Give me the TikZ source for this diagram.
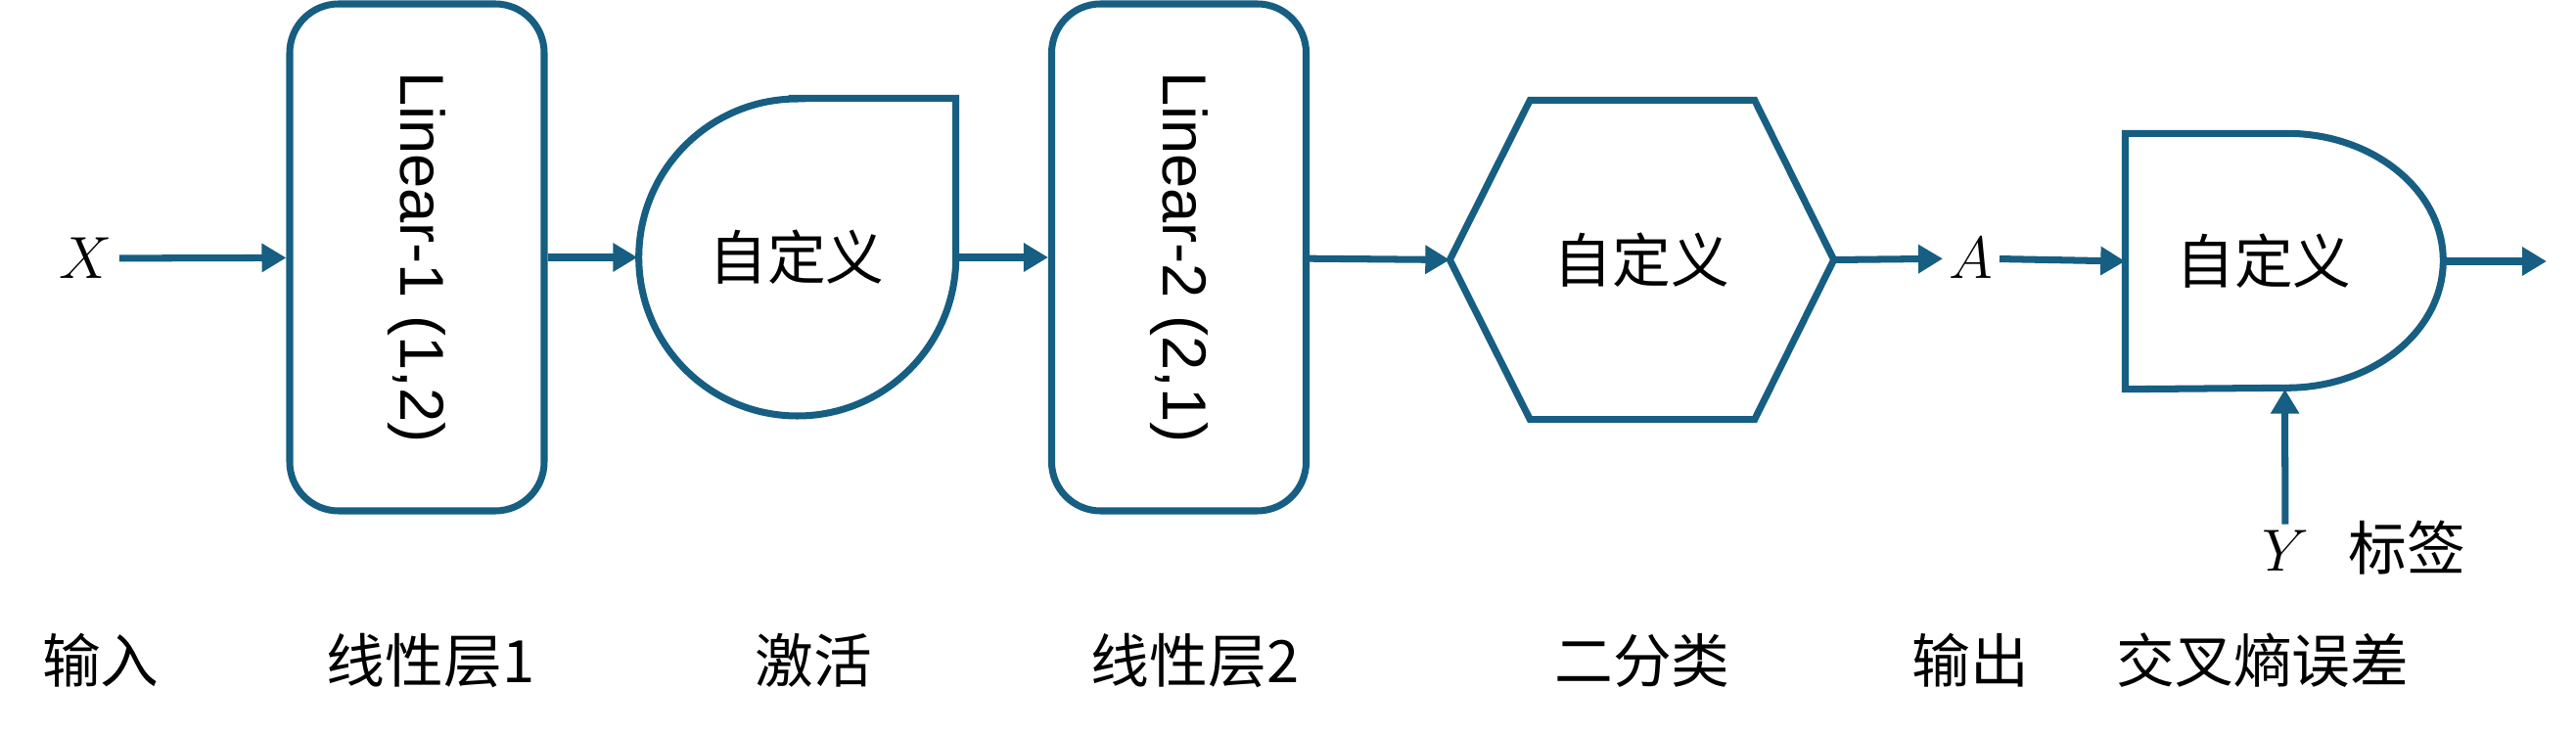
\documentclass[tikz,border=0pt]{standalone}
\usepackage{fontspec}
\setmainfont{Liberation Sans}
\newfontfamily\cjk{Noto Sans CJK SC}
\usetikzlibrary{arrows.meta}
\definecolor{netblue}{HTML}{165E82}
\begin{document}
\begin{tikzpicture}[
    layer/.style ={draw=netblue, line width=2pt, rounded corners=0.5cm, minimum width=2.6cm, minimum height=5.18cm, inner sep=0pt, font=\fontsize{18}{21}\selectfont},
    shapebox/.style ={inner sep=0pt, font=\cjk\fontsize{17}{20}\selectfont},
    outline/.style ={draw=netblue, line width=2pt, line join=miter},
    flow/.style ={draw=netblue, line width=2pt, -{Triangle[length=0.25cm,width=0.28cm]}},
    caption/.style ={font=\cjk\fontsize{17}{20}\selectfont},
    sym/.style ={inner sep=0.06cm, font=\fontsize{17.5}{20}\selectfont}]
   \useasboundingbox (0,0) rectangle (26.32,-7.51);

   \node[sym] (X) at (0.88,-2.64) {$X$};
   \node[layer] (L1) at (4.26,-2.63) {\rotatebox{-90}{Linear-1 (1,2)}};
   \node[shapebox, minimum width=3.24cm, minimum height=3.24cm] (act) at (8.14,-2.63) {自定义};
   \node[layer] (L2) at (12.045,-2.63) {\rotatebox{-90}{Linear-2 (2,1)}};
   \node[shapebox, minimum width=3.91cm, minimum height=3.25cm] (cls) at (16.775,-2.655) {自定义};
   \node[sym] (A) at (20.14,-2.64) {$A$};
   \node[shapebox, minimum width=3.25cm, minimum height=2.6cm] (loss) at (23.345,-2.67) {};
   \node[shapebox] (losstext) at (23.13,-2.67) {自定义};
   \coordinate (out) at (26.02,-2.67);
   \node[sym] (Y) at (23.35,-5.63) {$Y$};
   \node[caption] (label) at (24.59,-5.6) {标签};

   \draw[outline] (act.north) -- (act.north east) -- (act.east)
      arc[start angle=0, end angle=-270, radius=1.62cm] -- cycle;
   \draw[outline] (cls.west) -- ([xshift=0.82cm]cls.north west) -- ([xshift=-0.81cm]cls.north east)
      -- (cls.east) -- ([xshift=-0.81cm]cls.south east) -- ([xshift=0.82cm]cls.south west) -- cycle;
   \draw[outline] (loss.north west) -- ++(1.65,0)
      arc[start angle=90, end angle=-90, x radius=1.6cm, y radius=1.3cm] -- (loss.south west) -- cycle;

   \draw[flow] (X) -- (L1);
   \draw[flow] (L1) -- (act);
   \draw[flow] (act.east) -- (L2.west |- act.east);
   \draw[flow] (L2) -- (cls.west);
   \draw[flow] (cls.east) -- (A);
   \draw[flow] (A) -- (loss.west);
   \draw[flow] (loss.east) -- (out);
   \draw[flow] (Y) -- (loss.south);

   \node[caption] (in-cap) at (1.03,-6.75) {输入};
   \node[caption] (L1-cap) at (4.40,-6.75) {线性层1};
   \node[caption] (act-cap) at (8.31,-6.75) {激活};
   \node[caption] (L2-cap) at (12.21,-6.75) {线性层2};
   \node[caption] (cls-cap) at (16.78,-6.75) {二分类};
   \node[caption] (out-cap) at (20.13,-6.75) {输出};
   \node[caption] (loss-cap) at (23.12,-6.75) {交叉熵误差};
 \end{tikzpicture}
\end{document}
